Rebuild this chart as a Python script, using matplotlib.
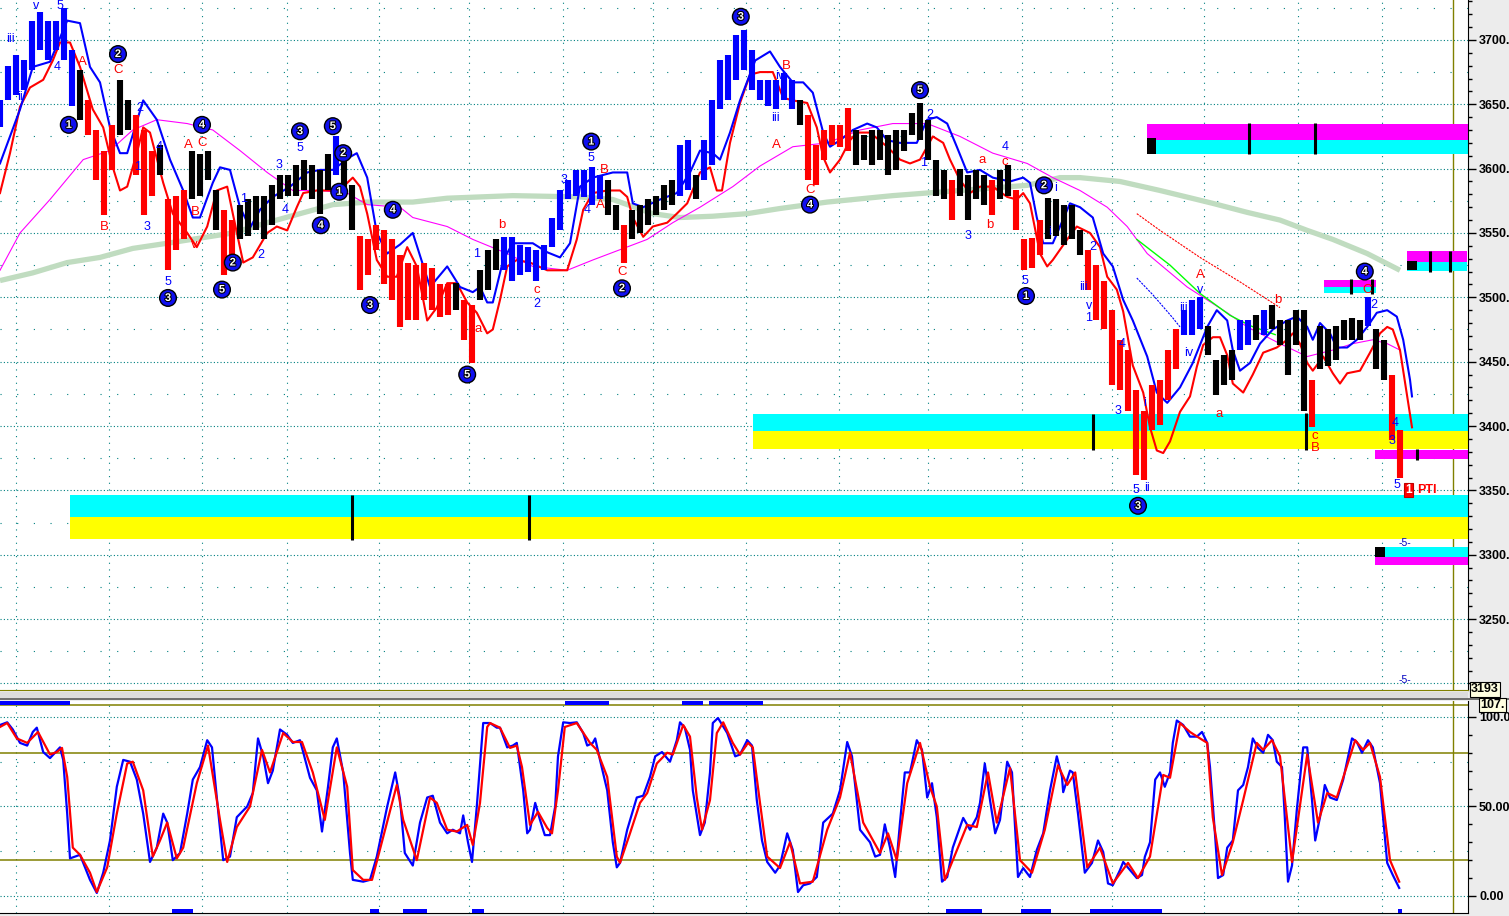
import matplotlib
matplotlib.use("Agg")
import matplotlib.pyplot as plt
from matplotlib.patches import Rectangle
from matplotlib.ticker import MultipleLocator, FixedLocator, FixedFormatter
import matplotlib.patheffects as pe

plt.rcParams['font.family'] = ['Liberation Sans', 'DejaVu Sans']

# ---------------- DATA ----------------
bar_high = [3653, 3680, 3688, 3684, 3715, 3722, 3715, 3715, 3725, 3692,
            3677, 3653, 3630, 3614, 3634, 3669, 3653, 3642, 3630, 3614,
            3618, 3576, 3579, 3583, 3614, 3611, 3614, 3583, 3568, 3560,
            3572, 3576, 3579, 3579, 3587, 3595, 3595, 3603, 3607, 3603,
            3599, 3611, 3625, 3617, 3587, 3548, 3545, 3556, 3552, 3545,
            3533, 3527, 3525, 3527, 3523, 3510, 3510, 3511, 3498, 3494,
            3521, 3537, 3545, 3547, 3547, 3541, 3539, 3537, 3541, 3562,
            3583, 3591, 3599, 3599, 3601, 3595, 3591, 3572, 3556, 3568,
            3572, 3576, 3579, 3587, 3591, 3618, 3622, 3595, 3622, 3653,
            3684, 3688, 3704, 3708, 3692, 3669, 3669, 3669, 3674, 3669,
            3653, 3642, 3618, 3630, 3634, 3634, 3647, 3630, 3626, 3630,
            3630, 3626, 3630, 3630, 3643, 3651, 3638, 3607, 3599, 3591,
            3600, 3595, 3599, 3595, 3591, 3599, 3603, 3583, 3545, 3546,
            3560, 3577, 3576, 3572, 3572, 3552, 3537, 3525, 3513, 3490,
            3467, 3459, 3428, 3412, 3432, 3436, 3459, 3475, 3490, 3498,
            3500, 3478, 3451, 3455, 3459, 3482, 3482, 3486, 3490, 3494,
            3482, 3482, 3490, 3490, 3436, 3478, 3475, 3478, 3482, 3484,
            3482, 3500, 3475, 3467, 3440, 3397]
bar_low = [3632, 3653, 3657, 3661, 3677, 3692, 3684, 3692, 3684, 3649,
           3638, 3626, 3591, 3564, 3599, 3626, 3630, 3595, 3564, 3579,
           3595, 3521, 3537, 3545, 3576, 3579, 3591, 3552, 3517, 3521,
           3545, 3548, 3552, 3545, 3556, 3576, 3579, 3579, 3583, 3576,
           3565, 3583, 3595, 3583, 3552, 3506, 3517, 3537, 3510, 3498,
           3477, 3482, 3482, 3498, 3490, 3485, 3486, 3490, 3467, 3449,
           3498, 3506, 3521, 3521, 3513, 3517, 3520, 3513, 3521, 3539,
           3552, 3576, 3579, 3578, 3572, 3576, 3564, 3552, 3527, 3545,
           3550, 3556, 3564, 3568, 3572, 3579, 3583, 3576, 3591, 3603,
           3646, 3653, 3669, 3677, 3661, 3653, 3649, 3646, 3653, 3646,
           3634, 3591, 3587, 3607, 3618, 3617, 3614, 3603, 3607, 3603,
           3607, 3595, 3599, 3614, 3626, 3622, 3607, 3579, 3576, 3560,
           3579, 3560, 3576, 3572, 3564, 3576, 3579, 3552, 3521, 3523,
           3533, 3545, 3548, 3541, 3545, 3533, 3506, 3482, 3475, 3432,
           3428, 3412, 3362, 3358, 3397, 3401, 3420, 3444, 3471, 3471,
           3475, 3455, 3424, 3432, 3436, 3459, 3463, 3467, 3471, 3475,
           3463, 3440, 3463, 3412, 3399, 3444, 3447, 3451, 3467, 3467,
           3467, 3478, 3444, 3436, 3389, 3360]
# trend state per bar: b = up (blue), r = down (red), k = neutral (black)
bar_trend = ("bbbbbbbbbb" "k" "rrrr" "kk" "rrr" "k" "rrr" "kkkk" "rr"
             "kkkkkkkkkkkk" "b" "kk" "rrrrrrrrrrrr" "k" "rr" "kkk"
             "bbbbbbbbbbbbb" "kk" "r" "kkkkkk" "bb" "k" "bbbbbbbbbbbb" "k"
             "rrrrrr" "kkkkkkkkkkkk" "r" "kkkk" "r" "kk" "rrrr" "kkkkk"
             "rrrrrrrrrrrr" "bbb" "kkkk" "bb" "k" "b" "kkkkk" "r" "kkkkkk"
             "b" "kk" "rr")

blue_band_t = [0, 2.5, 4.1, 6.25, 8.4, 10, 11.25, 12.5, 13.75, 15, 15.9, 17.9, 19.6, 21.25, 22.9,
               24.1, 25, 26.6, 27.5, 28.75, 30, 31.25, 32.5, 34.1, 36.25, 38.4, 40, 41.6, 43.75,
               44.6, 45.9, 47.1, 48.4, 50, 51.6, 53.75, 55.9, 57.5, 59.1, 60, 60.9, 61.6, 62.9,
               64.1, 66.6, 68.4, 70, 71.25, 72.5, 74.1, 76.6, 78.4, 79.1, 80.4, 82.5, 84.6, 86.25,
               87.5, 89.1, 90, 91.25, 92.5, 94.4, 96.25, 97.5, 99.1, 100.4, 101.6, 102.9, 103.75,
               105, 106.6, 108.4, 109.6, 110.9, 112.5, 114.6, 115.9, 117.1, 118.4, 119.6, 120.9,
               122.5, 124.1, 126.25, 127.9, 128.75, 129.6, 130.4, 131.6, 132.5, 133.75, 135,
               136.6, 137.9, 139.1, 140.4, 141.6, 143.4, 144.6, 145.9, 147.5, 149.1, 150.9,
               152.1, 153.4, 154.1, 155, 156.25, 157.5, 159.1, 160.9, 162.1, 163.4, 164.1, 165,
               166.25, 167.1, 168.4, 169.6, 170.9, 172.1, 173.4, 174.6, 175.4, 176.25, 176.5]
blue_band_v = [3604, 3646, 3679, 3683, 3715, 3713, 3679, 3667, 3632, 3612, 3612, 3653, 3638, 3607,
               3583, 3562, 3562, 3589, 3601, 3599, 3570, 3554, 3568, 3578, 3586, 3597, 3599, 3599,
               3609, 3612, 3593, 3550, 3534, 3541, 3550, 3508, 3524, 3508, 3504, 3508, 3496, 3496,
               3529, 3542, 3542, 3535, 3531, 3542, 3586, 3593, 3597, 3597, 3573, 3570, 3576, 3581,
               3597, 3614, 3612, 3607, 3628, 3653, 3684, 3691, 3679, 3667, 3667, 3659, 3628, 3617,
               3622, 3630, 3635, 3632, 3622, 3620, 3620, 3638, 3640, 3635, 3617, 3597, 3599, 3593,
               3590, 3593, 3589, 3562, 3542, 3542, 3555, 3573, 3570, 3562, 3534, 3524, 3498, 3482,
               3454, 3426, 3418, 3430, 3449, 3477, 3490, 3482, 3459, 3443, 3449, 3464, 3475, 3482,
               3485, 3477, 3467, 3480, 3472, 3461, 3461, 3467, 3477, 3488, 3490, 3485, 3467, 3436,
               3423]

red_band_t = [0, 1.25, 2.5, 3.75, 5.4, 6.6, 7.5, 8.75, 10, 11.6, 12.9, 14.1, 15, 15.9, 17.1, 17.9,
              18.75, 20.4, 21.6, 23.4, 24.6, 25.9, 27.1, 28.4, 29.1, 30.4, 31.6, 33.4, 34.6, 35.9,
              37.1, 37.9, 39.6, 41.25, 42.9, 44.1, 45, 45.9, 47.1, 48.4, 49.6, 50.9, 52.1, 53.4,
              54.6, 55.9, 57.1, 58.4, 59.6, 60.9, 61.6, 62.5, 63.4, 64.6, 66.25, 68.4, 70.9, 72.1,
              72.9, 74.1, 75.9, 77.5, 78.4, 79.1, 80.4, 81.6, 83.4, 84.6, 85.9, 87.5, 88.75, 89.6,
              90.25, 91.25, 92.5, 93.75, 95, 96.6, 97.9, 99.1, 100.9, 102.1, 102.9, 103.75, 105,
              106.25, 107.1, 108.75, 110.9, 112.5, 113.75, 115, 115.9, 116.6, 117.9, 118.75, 120,
              121.25, 122.5, 124.1, 125.9, 127.1, 127.9, 128.75, 130, 130.9, 131.6, 133.4, 134.6,
              136.25, 137.5, 138.4, 139.6, 140.4, 141.6, 142.9, 143.75, 144.6, 145.4, 146.25,
              147.5, 148.75, 149.6, 150.4, 151.6, 152.5, 153.4, 154.1, 155.4, 156.6, 157.9, 159.6,
              160.9, 161.6, 162.5, 163.4, 164.1, 165.4, 166.6, 167.5, 168.4, 170, 171.25, 172.5,
              173.4, 174.1, 175, 175.9, 176.5]
red_band_v = [3581, 3612, 3648, 3663, 3669, 3684, 3698, 3698, 3679, 3646, 3632, 3601, 3583, 3586,
              3612, 3632, 3628, 3589, 3565, 3550, 3539, 3555, 3583, 3586, 3565, 3527, 3531, 3550,
              3555, 3552, 3570, 3581, 3583, 3583, 3586, 3593, 3586, 3565, 3529, 3516, 3516, 3539,
              3524, 3482, 3492, 3511, 3511, 3496, 3488, 3472, 3475, 3498, 3524, 3529, 3527, 3521,
              3521, 3545, 3568, 3581, 3583, 3583, 3578, 3562, 3547, 3555, 3558, 3565, 3573, 3597,
              3601, 3583, 3583, 3620, 3651, 3673, 3675, 3675, 3655, 3653, 3651, 3632, 3609, 3597,
              3607, 3622, 3628, 3628, 3617, 3607, 3604, 3607, 3617, 3625, 3620, 3607, 3591, 3581,
              3586, 3586, 3578, 3576, 3581, 3573, 3534, 3524, 3529, 3545, 3555, 3550, 3539, 3516,
              3506, 3489, 3447, 3426, 3399, 3381, 3379, 3388, 3411, 3423, 3446, 3463, 3469, 3469,
              3455, 3433, 3426, 3440, 3457, 3461, 3467, 3472, 3464, 3449, 3443, 3454, 3441, 3433,
              3441, 3443, 3457, 3472, 3477, 3475, 3459, 3423, 3399]

magenta_t = [0, 2.5, 6.25, 10.4, 13.75, 16.6, 19.6, 23.4, 26.6, 30, 33.4, 36.6, 40, 43.4, 45.9, 50,
             51.6, 55.9, 59.1, 63.4, 66.6, 70.9, 74.1, 77.5, 80.9, 84.1, 87.5, 91.6, 95, 99.1,
             103.4, 107.5, 111.6, 115.9, 120, 124.1, 128.4, 131.6, 135, 138.4, 140.9, 143.4,
             145.9, 148.4, 150.9, 153.4, 155.9, 160, 163.4, 166.6, 169.1, 171.6, 173.4, 175]
magenta_v = [3521, 3550, 3576, 3607, 3614, 3630, 3638, 3635, 3630, 3614, 3597, 3583, 3583, 3581,
             3572, 3570, 3562, 3555, 3545, 3534, 3524, 3521, 3529, 3537, 3545, 3558, 3570, 3586,
             3602, 3617, 3620, 3630, 3635, 3635, 3625, 3612, 3604, 3593, 3583, 3570, 3555, 3534,
             3521, 3508, 3498, 3488, 3477, 3464, 3454, 3459, 3464, 3467, 3464, 3459]

ma200_t = [0, 4.1, 8.4, 12.5, 16.6, 20.9, 25, 29.1, 33.4, 37.5, 41.6, 45.9, 51.6, 55.9, 64.1, 72.5,
           76.6, 81.6, 85, 89.1, 93.4, 97.5, 103.4, 111.6, 120, 128.4, 132.5, 135, 140, 145,
           151.6, 155.9, 160, 163.4, 166.6, 170.9, 175]
ma200_v = [3513, 3519, 3527, 3531, 3538, 3542, 3546, 3550, 3558, 3565, 3572, 3574, 3574, 3577,
           3579, 3578, 3576, 3565, 3562, 3563, 3565, 3569, 3574, 3579, 3583, 3587, 3593, 3593,
           3590, 3583, 3573, 3566, 3560, 3552, 3545, 3534, 3521]

short_red_t = [142.1, 145, 150, 155, 160]
short_red_v = [3565, 3552, 3531, 3512, 3492]
short_green_t = [142.1, 146.25, 150, 153.75, 156.25, 159.4]
short_green_v = [3545, 3525, 3503, 3486, 3478, 3471]
short_blue_t = [142.1, 144.1, 146.6, 147.5]
short_blue_v = [3515, 3502, 3484, 3477]

# target zones: (start, end, low, high, colour)
zones = [(8.75, 183.5, 3329.3, 3346.4, '#00ffff'), (8.75, 183.5, 3312.2, 3329.3, '#ffff00'),
         (94.1, 183.5, 3396.1, 3409.3, '#00ffff'), (94.1, 183.5, 3382.1, 3396.1, '#ffff00'),
         (143.4, 183.5, 3622.2, 3634.7, '#ff00ff'), (143.4, 183.5, 3611.3, 3622.2, '#00ffff'),
         (175.9, 183.4, 3527.4, 3536.0, '#ff00ff'), (175.9, 183.4, 3520.4, 3527.4, '#00ffff'),
         (165.5, 172.0, 3508.0, 3513.4, '#ff00ff'), (165.5, 172.0, 3503.3, 3508.0, '#00ffff'),
         (171.9, 183.5, 3374.4, 3381.4, '#ff00ff'),
         (171.9, 183.5, 3298.2, 3306.0, '#00ffff'), (171.9, 183.5, 3292.0, 3298.2, '#ff00ff')]
zone_ticks = [(44, 3311.4, 3346.4), (66.1, 3311.4, 3346.4), (136.6, 3381.4, 3409.3),
              (163.25, 3381.4, 3410), (156.1, 3611, 3635.5), (164.4, 3611, 3635.5),
              (178.75, 3520, 3536), (181.25, 3520, 3536), (168.9, 3502.5, 3514),
              (171.5, 3502.5, 3514), (177.1, 3373.6, 3382.1)]
zone_blocks = [(143.4, 144.5, 3611.3, 3623.7), (175.9, 177.1, 3521.1, 3528.2),
               (171.9, 173.1, 3298.2, 3306.0)]

circle_labels = [("1", 8.6, 3634), ("2", 14.75, 3689), ("3", 21, 3499.5), ("4", 25.25, 3634),
                 ("2", 29.1, 3527), ("5", 27.75, 3506), ("3", 37.5, 3629), ("5", 41.6, 3633),
                 ("2", 42.9, 3612), ("1", 42.4, 3582), ("4", 40.1, 3556), ("4", 49.1, 3568),
                 ("3", 46.25, 3494), ("5", 58.4, 3440), ("1", 73.9, 3621), ("2", 77.75, 3507),
                 ("3", 92.6, 3718), ("4", 101.25, 3572), ("5", 115, 3661), ("1", 128.25, 3501),
                 ("2", 130.5, 3587), ("3", 142.25, 3338), ("4", 170.6, 3520)]
blue_labels = [("iii", 1.25, 3701), ("ii", 2.5, 3656), ("v", 4.5, 3726), ("5", 7.5, 3726),
               ("4", 7.1, 3679), ("2", 17.5, 3647), ("1", 17.25, 3601), ("4", 19.9, 3617),
               ("3", 18.4, 3555), ("5", 21, 3512), ("1", 30.4, 3576), ("2", 32.6, 3533),
               ("3", 34.9, 3603), ("4", 35.6, 3568), ("5", 37.5, 3616), ("1", 59.6, 3534),
               ("2", 67.1, 3495), ("3", 70.5, 3591), ("5", 73.9, 3608), ("4", 73.4, 3568),
               ("iv", 97.5, 3672), ("iii", 96.9, 3639), ("2", 116.25, 3642), ("1", 115.5, 3604),
               ("3", 121, 3548), ("4", 125.6, 3617), ("5", 128.1, 3513), ("i", 131.9, 3585),
               ("i", 131.25, 3551), ("2", 136.6, 3539), ("iii", 135.4, 3508), ("v", 136.1, 3493),
               ("1", 136.1, 3484), ("4", 140.25, 3464), ("3", 139.75, 3412), ("i", 143.1, 3418),
               ("5", 142, 3350), ("ii", 143.4, 3352), ("iii", 147.9, 3492), ("iv", 148.6, 3457),
               ("v", 150, 3506), ("2", 171.75, 3494), ("4", 174.4, 3402), ("3", 174, 3388),
               ("5", 174.6, 3354)]
red_labels = [("A", 10.25, 3683), ("B", 13.1, 3555), ("C", 14.75, 3677), ("A", 23.6, 3618),
              ("C", 25.25, 3620), ("B", 24.4, 3566), ("v", 24.25, 3541), ("a", 59.75, 3475),
              ("b", 62.75, 3556), ("c", 67.1, 3506), ("B", 75.5, 3599), ("A", 75, 3572),
              ("C", 77.75, 3520), ("B", 98.25, 3680), ("A", 97.1, 3618), ("C", 101.25, 3583),
              ("a", 122.75, 3607), ("b", 123.75, 3556), ("c", 125.6, 3605), ("A", 150, 3517),
              ("a", 152.4, 3409), ("b", 159.75, 3498), ("c", 164.4, 3392), ("B", 164.4, 3383),
              ("C", 170.9, 3506)]

stoch_k_t = [0, 0.9, 1.6, 2.5, 3.4, 4.1, 4.6, 5.4, 6.25, 7.5, 7.9, 8.4, 8.75, 10, 11.25, 12.1,
             12.9, 13.75, 14.6, 15.4, 16.25, 17.1, 17.9, 18.75, 19.6, 20.4, 20.9, 21.6, 22.5,
             23.4, 24.1, 25, 25.9, 26.5, 27.1, 27.9, 28.75, 29.6, 30.9, 31.6, 32.25, 32.9, 33.5,
             34.1, 35, 35.9, 36.6, 37.5, 38.75, 39.6, 40.25, 41, 41.6, 42.1, 42.9, 43.75, 44.1,
             45.4, 46.25, 47.1, 48.4, 49.4, 50, 50.6, 51.6, 52.5, 53.4, 54.1, 55, 55.9, 56.6,
             57.5, 57.9, 58.5, 59, 59.6, 60.4, 61.25, 62.1, 62.5, 63.4, 64.1, 64.6, 65.4, 65.9,
             66.25, 66.9, 67.5, 68.1, 68.75, 69.4, 69.75, 70.4, 71.25, 72.1, 72.9, 73.4, 74.1,
             74.4, 75, 75.9, 76.6, 77.1, 77.5, 78.4, 79.6, 80.4, 81.25, 81.9, 82.75, 83.75,
             84.6, 85, 85.6, 86.25, 86.6, 87.5, 88.1, 88.75, 89.1, 89.75, 90.9, 91.9, 92.5,
             93.4, 94, 94.6, 95.25, 95.9, 96.9, 97.5, 98.4, 99.1, 99.75, 100.4, 101.25, 102.1,
             102.9, 104.1, 105, 105.9, 106.5, 107.5, 108.75, 109.4, 110, 110.6, 111.25, 111.9,
             112.5, 113.1, 113.75, 114.6, 115.25, 115.9, 116.5, 117.1, 117.75, 118.4, 119.1,
             120.4, 121.25, 122.1, 122.5, 123.1, 123.75, 124.4, 125, 125.9, 126.5, 126.9,
             127.25, 127.9, 128.75, 129.6, 130.4, 131.25, 132.1, 132.75, 132.9, 133.75, 134.1,
             134.75, 135.6, 136.5, 137.25, 137.9, 138.5, 139.1, 140, 140.4, 141.25, 142.1,
             142.75, 143.1, 143.75, 144.4, 145, 145.6, 146.25, 146.6, 147.1, 147.9, 148.75,
             149.6, 150.25, 150.9, 151.25, 151.9, 152.25, 152.9, 153.4, 154.1, 154.75, 155.4,
             156, 156.6, 157.25, 157.9, 158.5, 159.1, 159.6, 160.25, 160.6, 161, 161.5, 162.1,
             162.9, 163.4, 164, 164.4, 165, 165.6, 166.25, 167.1, 167.9, 169, 169.6, 170.25,
             171, 171.6, 172.5, 173.4, 174.1, 174.9]
stoch_k_v = [95.5, 97, 93, 85.5, 84, 91.6, 94, 80.4, 77, 83, 76, 46, 21, 23, 9, 1.7, 13, 31, 61,
             76, 75, 65, 46, 19, 27, 46, 41, 20, 24, 46, 65, 72, 87, 83, 55, 20, 22, 44, 50, 57.5,
             88, 78, 63, 70, 93, 90, 85.5, 87, 66, 59, 36, 61, 83, 88, 69, 24, 9, 8, 9, 22, 50,
             69, 54, 24, 17, 41, 55, 56, 41, 35, 37, 35, 45, 30, 19, 50, 96.6, 96.6, 94, 94, 83,
             84, 85.5, 59, 35, 37, 52, 42.5, 34, 34, 50, 78, 97, 96.6, 97, 91, 84, 85.5, 88, 76,
             59, 30, 16, 18.5, 37, 55, 56, 66.5, 78, 80.4, 75, 87, 97, 94, 81.6, 59, 34, 41, 69,
             96.6, 99.4, 91, 78, 79, 87, 84, 53.6, 31, 19, 13, 17, 35, 25.7, 2.2, 6, 7, 10.6, 41,
             46, 59, 86, 78, 37, 30, 22, 23, 40, 27, 10.6, 41, 69, 69, 87, 81.6, 55, 63, 44, 8,
             10.6, 27, 43.6, 37, 44, 52, 74, 53.6, 35, 42.5, 75, 69, 37, 10.6, 15.6, 10.6, 25.7,
             35, 59, 78, 66.5, 58, 70, 69, 46, 13, 18.5, 31, 24.6, 7, 6, 14.5, 19, 14.5, 10, 11.7,
             21.8, 30, 65, 69, 61, 69, 85.5, 98, 95.5, 89, 89, 91.6, 85.5, 72, 33, 10, 11.7, 27,
             31, 59, 62, 72, 88, 82.7, 80, 90, 87, 75, 72, 44, 8, 17, 48, 83, 83, 53.6, 31, 44,
             62, 55, 53.6, 65, 88, 86, 80, 87, 83, 63, 18.5, 11.7, 4.5]

stoch_d_t = [0, 0.9, 2.1, 3.4, 4.75, 6.25, 7.1, 7.75, 8.4, 9.1, 10, 11.25, 12.1, 13.4, 14.6, 15.9,
             16.6, 17.9, 19.1, 20, 20.9, 22.1, 22.9, 24.6, 26, 27.5, 28.4, 29.6, 31.25, 32.75,
             33.75, 35.4, 36.6, 37.75, 39.1, 40.6, 42.1, 43.4, 44.1, 45.4, 46.5, 47.9, 49.6,
             50.4, 52.1, 53.75, 54.6, 55.9, 57.1, 58.4, 59.1, 60, 60.9, 61.25, 62.5, 63.75, 64.6,
             65.25, 66.25, 67.25, 68.4, 69, 69.75, 70.6, 72.1, 73.75, 74.6, 75.9, 77.1, 77.5,
             78.75, 80, 80.9, 82.1, 83.4, 84.1, 85.4, 86.25, 87.1, 87.75, 88.75, 89.6, 90.4,
             91.6, 92.5, 93.5, 94.1, 95, 95.9, 97.5, 98.75, 100, 101.6, 103.4, 105, 106.25,
             107.9, 110, 111, 112.1, 113.4, 115, 116.25, 117.1, 118.1, 119.1, 120.9, 122.1,
             123.5, 124.6, 126.25, 127.5, 129, 130.6, 132.25, 133.4, 134.4, 135.9, 137.5, 139.1,
             141, 142.25, 143.75, 145.4, 146.25, 147.5, 148.75, 150, 150.9, 151.6, 152.75,
             154.1, 155.4, 157.1, 157.9, 159, 160, 161.5, 163.4, 164.75, 165.9, 167.1, 169.4,
             170.4, 171.25, 172.5, 173.75, 174.9]
stoch_d_v = [94.4, 96.6, 88, 85.5, 91.6, 79, 80.4, 82.7, 66.5, 27, 23, 13, 2.2, 16, 46, 74, 75,
             59, 22, 31, 41, 21, 27, 63, 84, 42.5, 19, 38.5, 50, 81.6, 69, 91, 86, 86, 69, 42.5,
             83, 61, 14.5, 9, 9, 33, 62, 42.5, 20, 55, 52, 37, 36, 39.7, 28.5, 52, 94.4, 96.6,
             94, 82.7, 84, 72, 39.7, 47, 38, 35, 59, 94.4, 96.6, 85.5, 81.6, 66.5, 22, 18.5, 35,
             52, 57.5, 74, 80, 79, 95.5, 89, 55, 37, 53.6, 91, 97, 85.5, 79, 85.5, 83, 52, 22,
             15.6, 30, 7, 8, 37, 55, 80, 41, 24, 35, 20, 63, 85.5, 61, 50, 9, 20, 39.7, 38.5, 69,
             41, 71.5, 20, 13, 37, 73, 62, 69, 16, 27, 7, 18.5, 10, 22, 67.6, 66, 96.6, 91.6, 88,
             85.5, 44, 11.7, 30, 53.6, 85.5, 81.6, 87, 78, 19, 79, 41, 57.5, 55, 87, 81.6, 85.5,
             66.5, 20, 8]

stoch_top_marks = [(0, 8.75), (70.6, 76.1), (85.25, 87.9), (88.6, 95.4)]
stoch_bottom_marks = [(21.5, 24.1), (46.25, 47.4), (50.4, 53.4), (59, 60.5), (118.25, 122.75),
                      (127.6, 131.4), (136.25, 145.25), (174.75, 175.25)]

session_breaks = [2, 13.6, 25.25, 35.9, 47.4, 58.6, 70.4, 81.6, 93.25, 104.9, 116, 127.75, 139,
                  150.5, 162.25, 172.75]
cursor_t = 181.6
price_ticks = [3250, 3300, 3350, 3400, 3450, 3500, 3550, 3600, 3650, 3700]

# ---------------- FIGURE ----------------
W, H = 1509, 916
fig = plt.figure(figsize=(W / 100, H / 100), dpi=100, facecolor='#ececec')


def fy(py):
    return 1 - py / H


XR = 1468
ax = fig.add_axes([0, fy(690), XR / W, 690 / H])
ax2 = fig.add_axes([0, fy(913), XR / W, (913 - 701) / H])
for a in (ax, ax2):
    a.set_facecolor('white')
    a.set_xlim(0, 183.5)
    a.set_xticks([])
    for s in ('left', 'top'):
        a.spines[s].set_visible(False)
    a.spines['right'].set_color('black')
    a.yaxis.tick_right()

ax.set_ylim(3194.9, 3731)
ax2.set_ylim(-9.5, 108.9)
ax.spines['bottom'].set_color('#808000')
ax2.spines['bottom'].set_color('black')

teal = '#008080'
for v in range(3200, 3751, 50):
    ax.axhline(v, color=teal, lw=0.8, ls=(0, (1, 2)), zorder=0.5)
for v in range(3225, 3726, 50):
    ax.axhline(v, color=teal, lw=0.8, ls=(0, (1, 14)), zorder=0.5)
for t in session_breaks:
    ax.axvline(t, color=teal, lw=0.8, ls=(0, (1, 5)), zorder=0.5)
    ax2.axvline(t, color=teal, lw=0.8, ls=(0, (1, 5)), zorder=0.5)
for v in (0, 50, 100):
    ax2.axhline(v, color=teal, lw=0.8, ls=(0, (1, 2)), zorder=0.5)
for v in (25, 75):
    ax2.axhline(v, color=teal, lw=0.8, ls=(0, (1, 14)), zorder=0.5)
for v in (20, 80, 106.7):
    ax2.axhline(v, color='#808000', lw=1.1, zorder=1)
ax.axvline(cursor_t, color='#808000', lw=1.0, zorder=1)
ax2.axvline(cursor_t, color='#808000', lw=1.0, zorder=1)

# zones
for (x0, x1, lo, hi, c) in zones:
    ax.add_patch(Rectangle((x0, lo), x1 - x0, hi - lo, fc=c, ec='none', zorder=1.5))
for (t, lo, hi) in zone_ticks:
    ax.vlines(t, lo, hi, colors='black', lw=2.2, zorder=2)
for (x0, x1, lo, hi) in zone_blocks:
    ax.add_patch(Rectangle((x0, lo), x1 - x0, hi - lo, fc='black', ec='none', zorder=2))

# moving averages
ax.plot(ma200_t, ma200_v, color='#c0dcc0', lw=3.8, zorder=2.2, solid_capstyle='butt')
ax.plot(magenta_t, magenta_v, color='#ff00ff', lw=0.8, zorder=2.3)
ax.plot(short_red_t, short_red_v, color='#ff0000', lw=0.8, ls=(0, (2, 1)), zorder=2.3)
ax.plot(short_green_t, short_green_v, color='#00ff00', lw=1.0, zorder=2.3)
ax.plot(short_blue_t, short_blue_v, color='#0000ff', lw=0.8, ls=(0, (2, 1)), zorder=2.3)
ax.plot(red_band_t, red_band_v, color='#ff0000', lw=1.5, zorder=2.6)
ax.plot(blue_band_t, blue_band_v, color='#0000ff', lw=1.5, zorder=2.6)

# price bars
cmap = {'b': '#0000ff', 'r': '#ff0000', 'k': '#000000'}
n = min(len(bar_high), len(bar_low), len(bar_trend))
ax.vlines(list(range(n)), bar_low[:n], bar_high[:n],
          colors=[cmap[c] for c in bar_trend[:n]], lw=4.4, zorder=3)

# wave labels
stroke = [pe.withStroke(linewidth=1.5, foreground='black')]
for (s, t, v) in circle_labels:
    ax.text(t, v, s, ha='center', va='center', fontsize=8, fontweight='bold', color='white',
            path_effects=stroke, zorder=6,
            bbox=dict(boxstyle='circle,pad=0.3', fc='#1010f0', ec='black', lw=1.0))
for (s, t, v) in blue_labels:
    ax.text(t, v, s, ha='center', va='center', fontsize=9, color='#0000ff', zorder=6)
for (s, t, v) in red_labels:
    ax.text(t, v, s, ha='center', va='center', fontsize=9.5, color='#ff0000', zorder=6)

ax.text(175.6, 3309, '-5-', ha='center', va='center', fontsize=7.5, color='#0000c0', zorder=6)
ax.text(175.6, 3203, '-5-', ha='center', va='center', fontsize=7.5, color='#0000c0', zorder=6)
ax.text(176.1, 3350.5, '1', ha='center', va='center', fontsize=8.5, fontweight='bold',
        color='white', zorder=6,
        bbox=dict(boxstyle='square,pad=0.1', fc='#ff0000', ec='#c00000', lw=0.8))
ax.text(177.2, 3350.5, 'PTI', ha='left', va='center', fontsize=9, fontweight='bold',
        color='#ff0000', zorder=6)

# stochastic
ax2.plot(stoch_k_t, stoch_k_v, color='#0000ff', lw=1.6, zorder=3)
ax2.plot(stoch_d_t, stoch_d_v, color='#ff0000', lw=1.6, zorder=3.2)
for (a0, a1) in stoch_top_marks:
    ax2.add_patch(Rectangle((a0, 106.9), a1 - a0, 1.9, fc='#0000ff', ec='none', zorder=4))
for (a0, a1) in stoch_bottom_marks:
    ax2.add_patch(Rectangle((a0, -9.3), a1 - a0, 2.2, fc='#0000ff', ec='none', zorder=4))

# axis ticks / labels
lab_font = dict(fontsize=9, fontweight='bold')
ax.yaxis.set_major_locator(FixedLocator(price_ticks + [3200]))
ax.yaxis.set_major_formatter(FixedFormatter([f"{p}." for p in price_ticks] + [""]))
ax.yaxis.set_minor_locator(MultipleLocator(10))
ax2.yaxis.set_major_locator(FixedLocator([0, 50, 100]))
ax2.yaxis.set_major_formatter(FixedFormatter(["0.00", "50.00", "100.0"]))
ax2.yaxis.set_minor_locator(MultipleLocator(10))
for a in (ax, ax2):
    a.tick_params(axis='y', which='major', length=6, width=1, pad=2, labelsize=9,
                  colors='black')
    a.tick_params(axis='y', which='minor', length=3, width=1)
    for lbl in a.get_yticklabels():
        lbl.set_fontweight('bold')

# separator between panels
fig.patches.append(Rectangle((0, fy(700)), XR / W, 8 / H, transform=fig.transFigure,
                             fc='#dcdcdc', ec='none', zorder=0))
fig.patches.append(Rectangle((0, fy(699.5)), 1, 1.5 / H, transform=fig.transFigure,
                             fc='#707070', ec='none', zorder=0))

fig.text(1471 / W, fy(689), '3193', ha='left', va='center', color='black', **lab_font,
         bbox=dict(boxstyle='square,pad=0.12', fc='#ffffe0', ec='black', lw=0.8))
fig.text(1480 / W, fy(705), '107.', ha='left', va='center', color='black', **lab_font,
         bbox=dict(boxstyle='square,pad=0.1', fc='#ffffe0', ec='black', lw=0.8))

fig.savefig('out.png', dpi=100, facecolor=fig.get_facecolor())
